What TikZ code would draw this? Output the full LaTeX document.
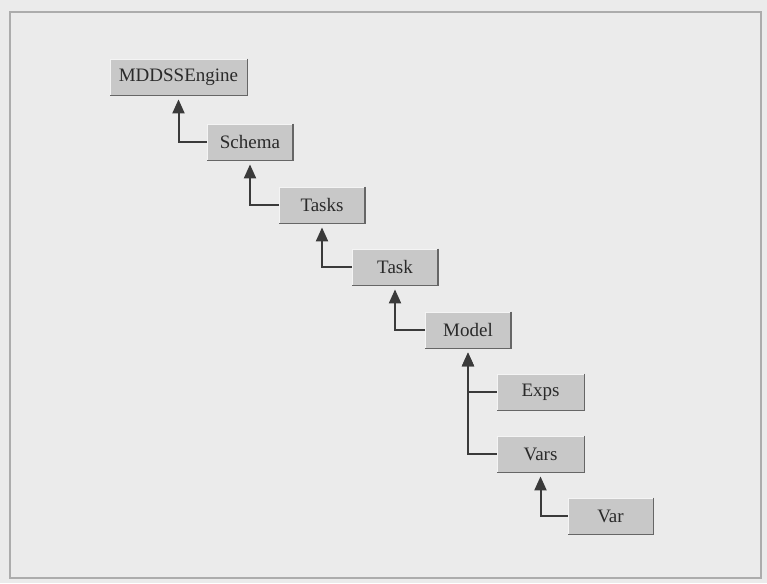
\documentclass[tikz,border=0pt]{standalone}
\usepackage{fontspec}
\setmainfont{Liberation Serif}
\usetikzlibrary{arrows.meta}
\definecolor{bgc}{HTML}{EBEBEB}
\definecolor{boxc}{HTML}{C8C8C8}
\definecolor{shadc}{HTML}{666666}
\definecolor{edgec}{HTML}{F4F4F4}
\definecolor{linec}{HTML}{3A3A3A}
\definecolor{txtc}{HTML}{2A2A2A}
\begin{document}
\begin{tikzpicture}[x=1pt,y=-1pt,
  cls/.style={fill=boxc, draw=edgec, line width=0.8pt, minimum height=36pt,
    inner sep=0pt, text=txtc, font=\fontsize{19}{21}\selectfont},
  conn/.style={draw=linec, line width=2pt, -{Triangle[width=12pt,length=14pt]}, shorten >=4pt},
  shad/.style={draw=shadc, line width=1.4pt}]
\useasboundingbox (0,0) rectangle (767,583);
\fill[bgc] (0,0) rectangle (767,583);
\draw[draw=gray!65, line width=1.5pt] (10,12) rectangle (761,578);

\node[cls, minimum width=137pt] (eng)   at (178.5,77)  {MDDSSEngine};
\node[cls, minimum width=85pt]  (schema) at (250,142) {Schema};
\node[cls, minimum width=85pt]  (tasks)  at (322,205) {Tasks};
\node[cls, minimum width=85pt]  (task)   at (395,267) {Task};
\node[cls, minimum width=85pt]  (model)  at (468,330) {Model};
\node[cls, minimum width=87pt]  (exps)   at (540.5,392) {Exps};
\node[cls, minimum width=87pt]  (vars)   at (540.5,454) {Vars};
\node[cls, minimum width=85pt]  (var)    at (610.5,516) {Var};

\foreach \n in {eng,schema,tasks,task,model,exps,vars,var}{
  \draw[shad] (\n.north east) -- (\n.south east) -- (\n.south west);
}

\draw[conn] (schema.west) -| (eng.south);
\draw[conn] (tasks.west) -| (schema.south);
\draw[conn] (task.west) -| (tasks.south);
\draw[conn] (model.west) -| (task.south);
\draw[conn] (exps.west) -| (model.south);
\draw[conn] (vars.west) -| (model.south);
\draw[conn] (var.west) -| (vars.south);
\end{tikzpicture}
\end{document}
